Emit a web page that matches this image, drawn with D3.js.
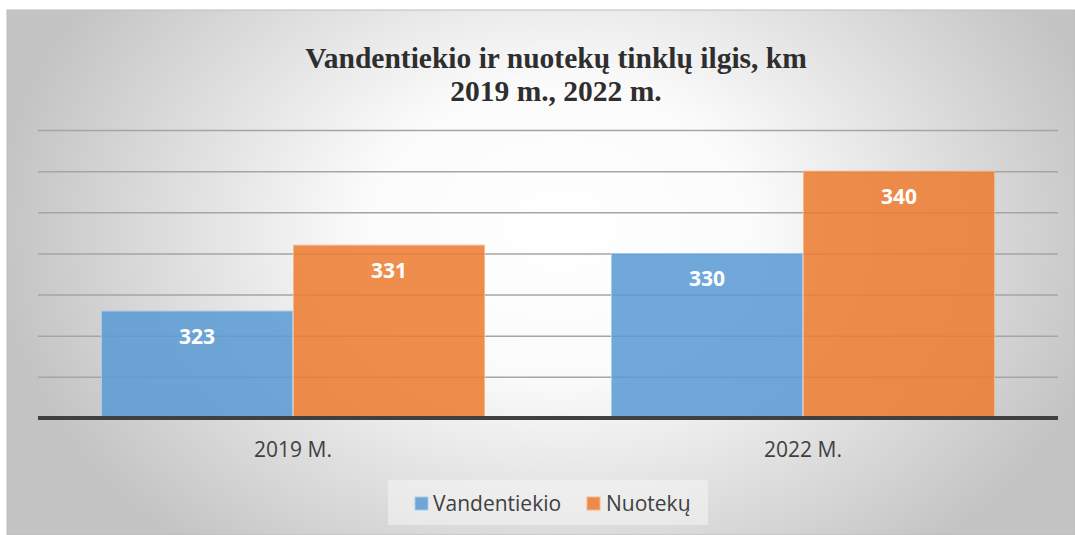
<!DOCTYPE html>
<html><head><meta charset="utf-8">
<script src="https://cdn.jsdelivr.net/npm/d3@7"></script>
<style>body{margin:0;background:#fff}svg{display:block}</style>
</head><body>
<svg id="c" width="1075" height="535"></svg>
<script>
const categories = ["2019 M.", "2022 M."];
const seriesNames = ["Vandentiekio", "Nuotekų"];
const vandentiekio = [323, 330];
const nuoteku = [331, 340];
const yTicks = [310, 315, 320, 325, 330, 335, 340, 345];
const titleLines = ["Vandentiekio ir nuotekų tinklų ilgis, km", "2019 m., 2022 m."];
const colors = ["#5b9bd5", "#ed7d31"];

const svg = d3.select("#c");
const defs = svg.append("defs");
const rg = defs.append("radialGradient").attr("id","bg")
  .attr("gradientUnits","userSpaceOnUse").attr("cx",560).attr("cy",230).attr("r",560)
  .attr("gradientTransform","translate(560,230) scale(1,0.75) translate(-560,-230)");
rg.append("stop").attr("offset","0").attr("stop-color","#ffffff");
rg.append("stop").attr("offset","0.35").attr("stop-color","#fbfbfb");
rg.append("stop").attr("offset","1").attr("stop-color","#c4c4c4");

svg.append("rect").attr("x",7).attr("y",10).attr("width",1068).attr("height",525)
  .attr("fill","url(#bg)").attr("stroke","#bdbdbd").attr("stroke-width",1);

const x0 = d3.scaleBand().domain(categories).range([38,1058]).paddingInner(0.247).paddingOuter(0.1235);
const x1 = d3.scaleBand().domain(seriesNames).range([0, x0.bandwidth()]);
const y = d3.scaleLinear().domain([310,345]).range([418,130]);

// gridlines
const grid = svg.append("g")
  .call(d3.axisLeft(y).tickValues(yTicks).tickSize(-(1058-38)).tickFormat(""))
  .attr("transform","translate(38,0)");
grid.select(".domain").remove();
grid.selectAll(".tick line").attr("stroke","#a5a5a5").attr("stroke-width",1.5);

// bars
const data = categories.map((c,i)=>({cat:c, vals:[vandentiekio[i], nuoteku[i]]}));
const groups = svg.append("g").selectAll("g").data(data).join("g")
  .attr("transform", d=>`translate(${x0(d.cat)},0)`);
groups.selectAll("rect").data(d=>d.vals.map((v,j)=>({v, s:seriesNames[j], j})))
  .join("rect")
  .attr("x", d=>x1(d.s)+0.5).attr("width", x1.bandwidth()-1)
  .attr("y", d=>y(d.v)).attr("height", d=>y(310)-y(d.v))
  .attr("fill", d=>colors[d.j]).attr("fill-opacity",0.87)
  .attr("stroke", d=>d.j===0?"#a9cbeb":"#f6b68a").attr("stroke-width",1);
groups.selectAll("text").data(d=>d.vals.map((v,j)=>({v, s:seriesNames[j], j})))
  .join("text")
  .attr("x", d=>x1(d.s)+x1.bandwidth()/2).attr("y", d=>y(d.v)+33)
  .attr("text-anchor","middle").attr("fill","#fff")
  .attr("font-family","'Open Sans'").attr("font-weight","bold").attr("font-size",21)
  .text(d=>d.v);

// x axis
const xa = svg.append("g").attr("transform","translate(0,418)")
  .call(d3.axisBottom(x0).tickSize(0).tickPadding(24));
xa.select(".domain").attr("stroke","#404040").attr("stroke-width",4).attr("d","M38,0H1058");
xa.selectAll("text").attr("font-family","'Open Sans'").attr("font-size",21).attr("fill","#404040");

// title
svg.append("text").attr("x",556).attr("y",0).attr("text-anchor","middle")
  .attr("font-family","'Liberation Serif'").attr("font-weight","bold").attr("font-size",29.5).attr("fill","#2e2e2e")
  .selectAll("tspan").data(titleLines).join("tspan")
  .attr("x",556).attr("y",(d,i)=>68+i*33).text(d=>d);

// legend
const lg = svg.append("g");
lg.append("rect").attr("x",388).attr("y",480).attr("width",320).attr("height",45).attr("fill","#f7f7f7").attr("fill-opacity",0.5);
const items = [{x:415, tx:433}, {x:587, tx:606}];
seriesNames.forEach((n,i)=>{
  lg.append("rect").attr("x",items[i].x).attr("y",497).attr("width",13).attr("height",13)
    .attr("fill",colors[i]).attr("fill-opacity",0.87).attr("stroke", i===0?"#a9cbeb":"#f6b68a");
  lg.append("text").attr("x",items[i].tx).attr("y",511).attr("font-family","'Open Sans'")
    .attr("font-size",21).attr("fill","#404040").text(n);
});
</script>
</body></html>
